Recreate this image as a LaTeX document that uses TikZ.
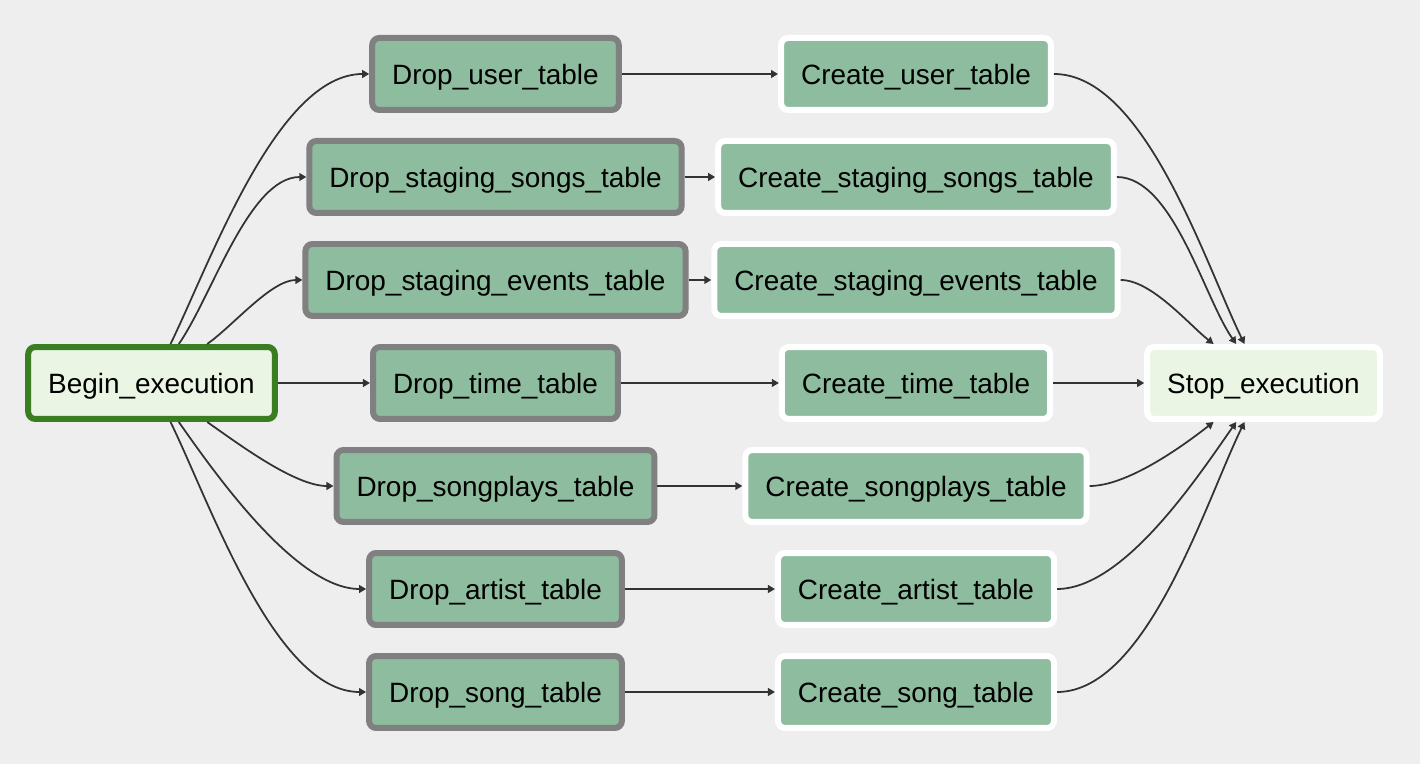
\documentclass[tikz,border=0pt]{standalone}
\usepackage{fontspec}
\setmainfont{Liberation Sans}
\usetikzlibrary{arrows.meta}
\definecolor{bg}{HTML}{EEEEEE}
\definecolor{ok}{HTML}{8EBC9E}
\definecolor{okline}{HTML}{808080}
\definecolor{dummy}{HTML}{EAF5E4}
\definecolor{run}{HTML}{3A7D23}
\definecolor{wire}{HTML}{333333}

\begin{document}
\begin{tikzpicture}[x=0.02cm,y=0.02cm,
    task/.style={rectangle,rounded corners=4pt,line width=0.12cm,
      inner xsep=0.4cm,minimum height=1.44cm,text height=15.8pt,text depth=3.3pt,
      font=\fontsize{15.9}{18}\selectfont},
    drop/.style={task,draw=okline,fill=ok},
    create/.style={task,draw=white,fill=ok},
    flow/.style={->,draw=wire,line width=1pt,looseness=0.7},
    >={Triangle[length=4pt,width=4.4pt]}]
    \fill[bg] (0,0) rectangle (1420,764);

    \path
    (151.5,381) node[task,draw=run,fill=dummy] (begin) {Begin\_execution}
    (1263.5,381) node[create,fill=dummy] (stop) {Stop\_execution}
    ;

    \path
    (495.5,690) node[drop] (dropuser) {Drop\_user\_table}
    (495.5,587) node[drop] (dropsongs) {Drop\_staging\_songs\_table}
    (495.5,484) node[drop] (dropevents) {Drop\_staging\_events\_table}
    (495.5,381) node[drop] (droptime) {Drop\_time\_table}
    (495.5,278) node[drop] (dropplays) {Drop\_songplays\_table}
    (495.5,175) node[drop] (dropartist) {Drop\_artist\_table}
    (495.5,72) node[drop] (dropsong) {Drop\_song\_table}
    ;

    \path
    (916,690) node[create] (createuser) {Create\_user\_table}
    (916,587) node[create] (createsongs) {Create\_staging\_songs\_table}
    (916,484) node[create] (createevents) {Create\_staging\_events\_table}
    (916,381) node[create] (createtime) {Create\_time\_table}
    (916,278) node[create] (createplays) {Create\_songplays\_table}
    (916,175) node[create] (createartist) {Create\_artist\_table}
    (916,72) node[create] (createsong) {Create\_song\_table}
    ;

    % straight ones
    \draw[flow] (begin) -- (droptime);
    \foreach \d/\c in {user/user,songs/songs,events/events,time/time,plays/plays,artist/artist,song/song}
      \draw[flow] (drop\d) -- (create\c);
    \draw[flow] (createtime) -- (stop);

    % fan out
    \foreach \n/\a in {user/64,songs/55,events/35,plays/-35,artist/-55,song/-64}
      \draw[flow] (begin.\a) to[out=\a,in=180] (drop\n.west);

    % fan in
    \foreach \n/\a in {user/116,songs/125,events/142,plays/-142,artist/-125,song/-116}
      \draw[flow] (create\n.east) to[out=0,in=\a] (stop.\a);
  \end{tikzpicture}
\end{document}
